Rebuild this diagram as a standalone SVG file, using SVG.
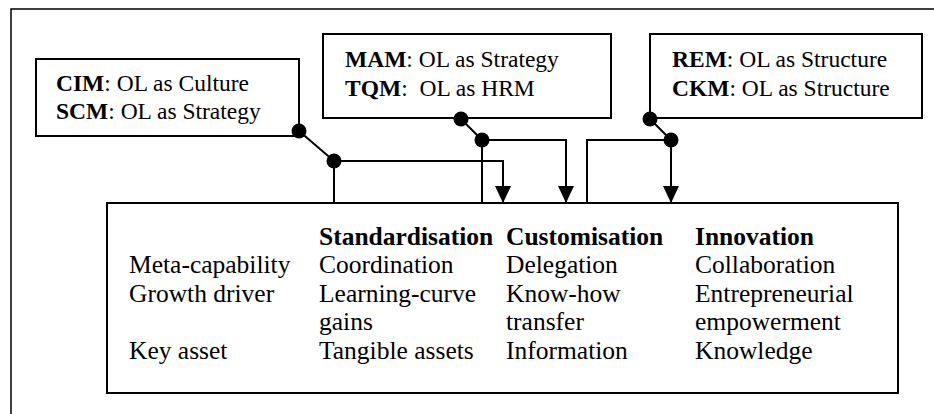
<svg xmlns="http://www.w3.org/2000/svg" width="934" height="414" viewBox="0 0 934 414">
<style>
  .frame{fill:none;stroke:#000;stroke-width:1.5}
  .box{fill:#fff;stroke:#000;stroke-width:2}
  .lbl{font-family:"Liberation Serif","Times New Roman",serif;font-size:23.5px;fill:#000}
  .tbl{font-family:"Liberation Serif","Times New Roman",serif;font-size:25.5px;fill:#000}
  .b{font-weight:bold}
  .conn{fill:none;stroke:#000;stroke-width:2}
  .dot{fill:#000}
</style>
<defs>
  <marker id="arr" markerUnits="userSpaceOnUse" markerWidth="17" markerHeight="16" refX="17" refY="8" orient="auto">
    <path d="M0,0 L17,8 L0,16 z" fill="#000"/>
  </marker>
</defs>
<rect width="934" height="414" fill="#fff"/>
<path class="frame" d="M11,420 V9 H940"/>

<g id="cim-box">
  <rect class="box" x="36" y="59" width="263" height="77"/>
  <text class="lbl" x="56" y="91"><tspan class="b">CIM</tspan>: OL as Culture</text>
  <text class="lbl" x="56" y="119"><tspan class="b">SCM</tspan>: OL as Strategy</text>
</g>
<g id="mam-box">
  <rect class="box" x="323" y="34" width="288" height="84"/>
  <text class="lbl" x="345" y="67"><tspan class="b">MAM</tspan>: OL as Strategy</text>
  <text class="lbl" x="345" y="96" style="white-space:pre"><tspan class="b">TQM</tspan>:  OL as HRM</text>
</g>
<g id="rem-box">
  <rect class="box" x="650" y="34" width="272" height="84"/>
  <text class="lbl" x="672" y="67"><tspan class="b">REM</tspan>: OL as Structure</text>
  <text class="lbl" x="672" y="96"><tspan class="b">CKM</tspan>: OL as Structure</text>
</g>

<g id="table">
  <rect class="box" x="107" y="203" width="791" height="190"/>
  <g class="tbl">
    <text x="319" y="245" class="b">Standardisation</text>
    <text x="506" y="245" class="b">Customisation</text>
    <text x="695" y="245" class="b">Innovation</text>
    <text x="129" y="273">Meta-capability</text>
    <text x="319" y="273">Coordination</text>
    <text x="506" y="273">Delegation</text>
    <text x="695" y="273">Collaboration</text>
    <text x="129" y="302">Growth driver</text>
    <text x="319" y="302">Learning-curve</text>
    <text x="506" y="302">Know-how</text>
    <text x="695" y="302">Entrepreneurial</text>
    <text x="319" y="330">gains</text>
    <text x="506" y="330">transfer</text>
    <text x="695" y="330">empowerment</text>
    <text x="129" y="359">Key asset</text>
    <text x="319" y="359">Tangible assets</text>
    <text x="506" y="359">Information</text>
    <text x="695" y="359">Knowledge</text>
  </g>
</g>

<g id="connectors">
  <path class="conn" d="M299,131 L334,161"/>
  <path class="conn" d="M334,161 V203"/>
  <path class="conn" d="M334,161 H503 V203" marker-end="url(#arr)"/>
  <circle class="dot" cx="299" cy="131" r="7.5"/>
  <circle class="dot" cx="334" cy="161" r="7.5"/>

  <path class="conn" d="M461,119 L482,140"/>
  <path class="conn" d="M482,140 V203"/>
  <path class="conn" d="M482,140 H566 V203" marker-end="url(#arr)"/>
  <circle class="dot" cx="461" cy="119" r="7.5"/>
  <circle class="dot" cx="482" cy="140" r="7.5"/>

  <path class="conn" d="M650,119 L671,140"/>
  <path class="conn" d="M671,140 V203" marker-end="url(#arr)"/>
  <path class="conn" d="M671,140 H587 V203"/>
  <circle class="dot" cx="650" cy="119" r="7.5"/>
  <circle class="dot" cx="671" cy="140" r="7.5"/>
</g>
</svg>
